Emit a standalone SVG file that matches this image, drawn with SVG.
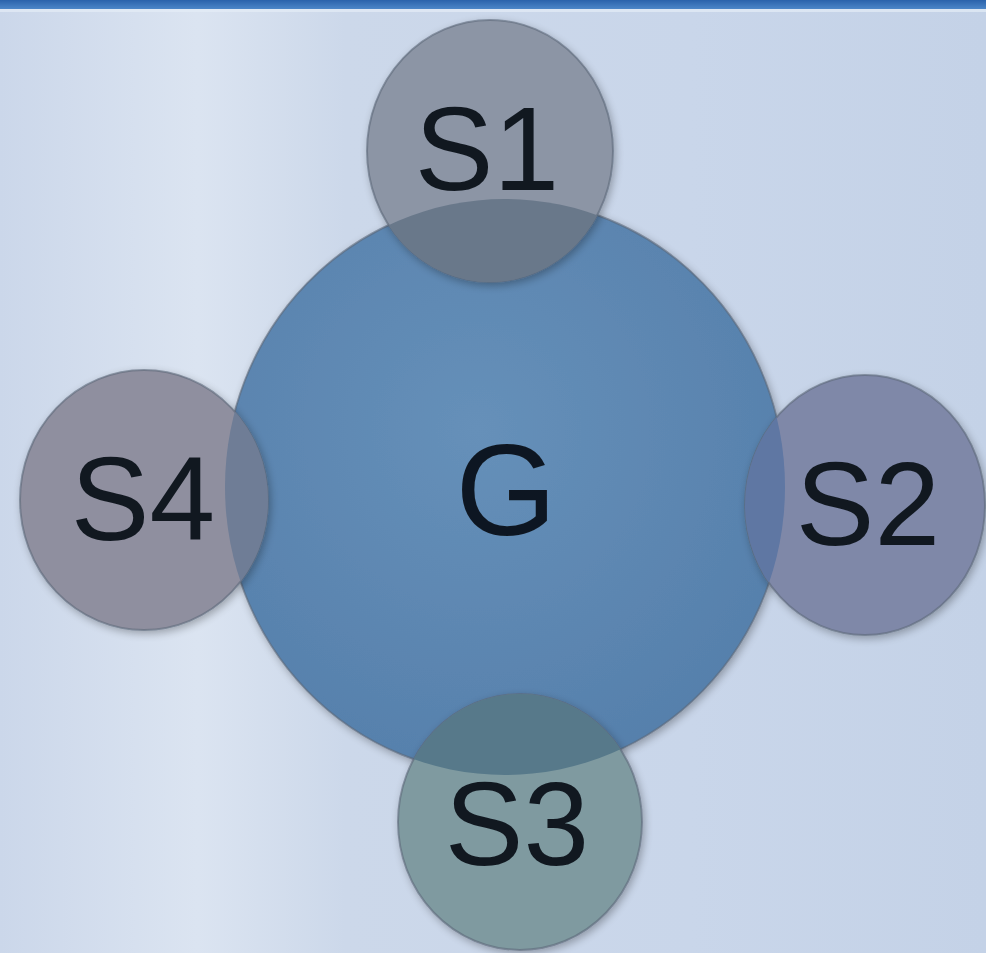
<svg xmlns="http://www.w3.org/2000/svg" width="986" height="953" viewBox="0 0 986 953">
<defs>
<linearGradient id="bg" x1="0" y1="0" x2="1" y2="0">
<stop offset="0" stop-color="#cbd7ea"/>
<stop offset="0.2" stop-color="#dbe4f1"/>
<stop offset="0.35" stop-color="#ccd8ea"/>
<stop offset="0.7" stop-color="#c9d6ea"/>
<stop offset="1" stop-color="#c4d2e7"/>
</linearGradient>
<linearGradient id="bar" x1="0" y1="0" x2="0" y2="1">
<stop offset="0" stop-color="#2a62ab"/>
<stop offset="1" stop-color="#4c86c8"/>
</linearGradient>
<radialGradient id="gG" cx="0.45" cy="0.4" r="0.65">
<stop offset="0" stop-color="#6690b9"/>
<stop offset="1" stop-color="#557fab"/>
</radialGradient>
<clipPath id="clipG"><ellipse cx="505" cy="487" rx="280" ry="288"/></clipPath>
<filter id="sh" x="-20%" y="-20%" width="140%" height="140%">
<feGaussianBlur in="SourceAlpha" stdDeviation="4"/>
<feOffset dx="2" dy="3"/>
<feComponentTransfer><feFuncA type="linear" slope="0.3"/></feComponentTransfer>
<feMerge><feMergeNode/><feMergeNode in="SourceGraphic"/></feMerge>
</filter>
</defs>
<style>
.lbl{font-family:"Liberation Sans",Arial,sans-serif;fill:#111820;text-anchor:middle}
.s{font-size:118px}
.g{font-size:130px}
.edge{stroke:#5c6878;stroke-width:2;stroke-opacity:0.6}
</style>
<rect width="986" height="953" fill="url(#bg)"/>
<rect width="986" height="9" fill="url(#bar)"/>
<rect y="9" width="986" height="3" fill="#e4ecf7" opacity="0.7"/>
<g id="connectors"/>
<g id="node-G" filter="url(#sh)">
<ellipse cx="505" cy="487" rx="280" ry="288" fill="url(#gG)" class="edge"/>
<text class="lbl g" x="506" y="535">G</text>
</g>
<g id="node-S1">
<ellipse cx="490" cy="151" rx="123" ry="131" fill="#8c95a5" class="edge" filter="url(#sh)"/>
<ellipse cx="490" cy="151" rx="123" ry="131" fill="#69788a" clip-path="url(#clipG)"/>
<text class="lbl s" x="487" y="190">S1</text>
</g>
<g id="node-S2">
<ellipse cx="865" cy="505" rx="120" ry="130" fill="#7f88a8" class="edge" filter="url(#sh)"/>
<ellipse cx="865" cy="505" rx="120" ry="130" fill="#5f77a3" clip-path="url(#clipG)"/>
<text class="lbl s" x="868" y="545">S2</text>
</g>
<g id="node-S3">
<ellipse cx="520" cy="822" rx="122" ry="128" fill="#7f9aa0" class="edge" filter="url(#sh)"/>
<ellipse cx="520" cy="822" rx="122" ry="128" fill="#57798a" clip-path="url(#clipG)"/>
<text class="lbl s" x="517" y="865">S3</text>
</g>
<g id="node-S4">
<ellipse cx="144" cy="500" rx="124" ry="130" fill="#8f8f9f" class="edge" filter="url(#sh)"/>
<ellipse cx="144" cy="500" rx="124" ry="130" fill="#6f7d96" clip-path="url(#clipG)"/>
<text class="lbl s" x="143" y="540">S4</text>
</g>
</svg>
